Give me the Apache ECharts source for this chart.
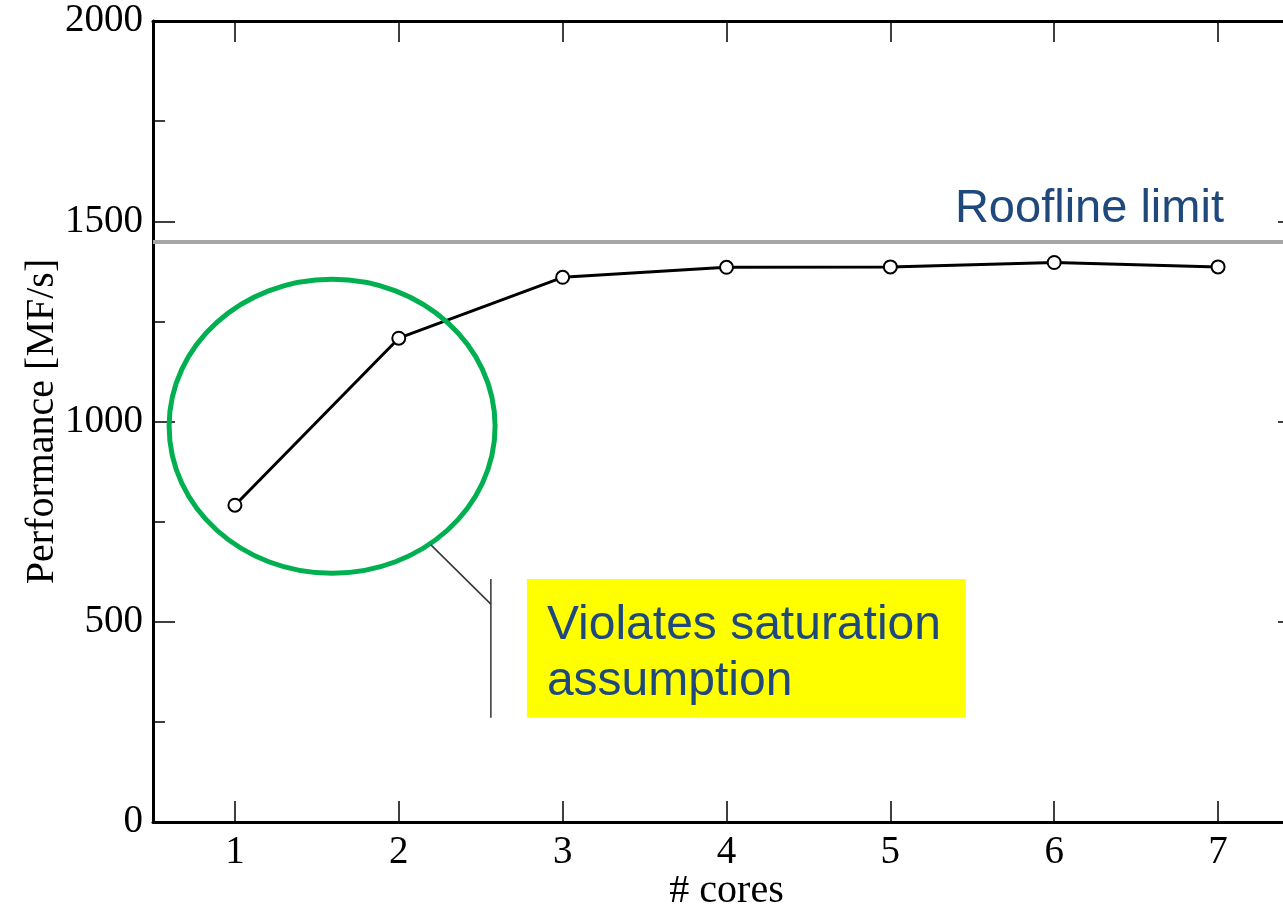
<!DOCTYPE html>
<html>
<head>
<meta charset="utf-8">
<script src="https://cdn.jsdelivr.net/npm/echarts@6/dist/echarts.min.js"></script>
<style>
  html, body { margin: 0; padding: 0; background: #fff; }
  #chart { width: 1283px; height: 909px; }
</style>
</head>
<body>
<div id="chart"></div>
<script>
// 数据：核数 / 性能 (MF/s)
const cores = [1, 2, 3, 4, 5, 6, 7];
const performance = [791, 1208, 1360, 1385, 1386, 1397, 1386];
const xTicks = [1, 2, 3, 4, 5, 6, 7];
const rooflineLimit = 1450;

const serif = '"Liberation Serif", "DejaVu Serif", serif';
const sans = '"Liberation Sans", Arial, sans-serif';
const textBlue = '#1F497D';

const chart = echarts.init(document.getElementById('chart'));

const tickStyle = { color: '#000', width: 1.5 };
const axisLineStyle = { color: '#000', width: 3 };

const option = {
  animation: false,
  grid: { left: 153, top: 21, width: 1147, height: 801, outerBoundsMode: 'none', containLabel: false },
  xAxis: [
    {
      type: 'value', min: 0.5, max: 7.5,
      axisLine: { onZero: false, lineStyle: axisLineStyle },
      axisTick: { inside: true, length: 21, customValues: xTicks, lineStyle: tickStyle },
      axisLabel: { customValues: xTicks, fontFamily: serif, fontSize: 39, color: '#000', margin: 11 },
      splitLine: { show: false },
      name: '# cores', nameLocation: 'middle', nameGap: 49, nameMoveOverlap: false,
      nameTextStyle: { fontFamily: serif, fontSize: 40, color: '#000' }
    },
    {
      type: 'value', min: 0.5, max: 7.5, position: 'top',
      axisLine: { onZero: false, lineStyle: axisLineStyle },
      axisTick: { inside: true, length: 21, customValues: xTicks, lineStyle: tickStyle },
      axisLabel: { show: false },
      splitLine: { show: false }
    }
  ],
  yAxis: [
    {
      type: 'value', min: 0, max: 2000, interval: 500,
      axisLine: { show: true, onZero: false, lineStyle: axisLineStyle },
      axisTick: { show: true, inside: true, length: 22, lineStyle: tickStyle },
      minorTick: { show: true, splitNumber: 2, length: 12, lineStyle: tickStyle },
      axisLabel: { fontFamily: serif, fontSize: 39, color: '#000', margin: 10, formatter: v => String(v) },
      splitLine: { show: false },
      name: 'Performance [MF/s]', nameLocation: 'middle', nameGap: 91, nameRotate: 90, nameMoveOverlap: false,
      nameTextStyle: { fontFamily: serif, fontSize: 40, color: '#000' }
    },
    {
      type: 'value', min: 0, max: 2000, interval: 500, position: 'right',
      axisLine: { show: true, onZero: false, lineStyle: axisLineStyle },
      axisTick: { show: true, inside: true, length: 22, lineStyle: tickStyle },
      minorTick: { show: true, splitNumber: 2, length: 12, lineStyle: tickStyle },
      axisLabel: { show: false },
      splitLine: { show: false }
    }
  ],
  series: [
    {
      type: 'line',
      data: cores.map((c, i) => [c, performance[i]]),
      symbol: 'circle',
      symbolSize: 13,
      lineStyle: { color: '#000', width: 3 },
      itemStyle: { color: '#fff', borderColor: '#000', borderWidth: 2 },
      z: 5,
      markLine: {
        silent: true,
        symbol: ['none', 'none'],
        label: { show: false },
        lineStyle: { color: '#a6a6a6', width: 4, type: 'solid' },
        data: [{ yAxis: rooflineLimit }]
      }
    }
  ]
};

chart.setOption(option);

// 注释：用数据坐标换算成像素
const px = (x, y) => chart.convertToPixel({ xAxisIndex: 0, yAxisIndex: 0 }, [x, y]);

const ellC = px(1.593, 988);
const pLineA = px(2.196, 692);
const pLineB = px(2.562, 544);
const pVTop = px(2.562, 607);
const pVBot = px(2.562, 260);
const boxTL = px(2.782, 607);
const boxBR = px(5.461, 260);
const roofTxt = px(5.394, 1530);

chart.setOption({
  graphic: [
    {
      type: 'ellipse',
      shape: { cx: ellC[0], cy: ellC[1], rx: 163, ry: 147 },
      style: { fill: 'none', stroke: '#00B050', lineWidth: 5 },
      z: 10
    },
    {
      type: 'polyline',
      shape: { points: [pLineA, pLineB] },
      style: { stroke: '#333', lineWidth: 1.5, fill: 'none' },
      z: 10
    },
    {
      type: 'line',
      shape: { x1: pVTop[0], y1: pVTop[1], x2: pVBot[0], y2: pVBot[1] },
      style: { stroke: '#333', lineWidth: 1.5 },
      z: 10
    },
    {
      type: 'rect',
      shape: { x: boxTL[0], y: boxTL[1], width: boxBR[0] - boxTL[0], height: boxBR[1] - boxTL[1] },
      style: { fill: '#FFFF00' },
      z: 10
    },
    {
      type: 'text',
      x: boxTL[0] + 20, y: boxTL[1] + 19,
      style: {
        text: 'Violates saturation\nassumption',
        fontFamily: sans, fontSize: 48, lineHeight: 56,
        fill: textBlue, verticalAlign: 'top', align: 'left'
      },
      z: 11
    },
    {
      type: 'text',
      x: roofTxt[0], y: roofTxt[1],
      style: {
        text: 'Roofline limit',
        fontFamily: sans, fontSize: 47,
        fill: textBlue, verticalAlign: 'middle', align: 'left'
      },
      z: 11
    }
  ]
});
</script>
</body>
</html>
